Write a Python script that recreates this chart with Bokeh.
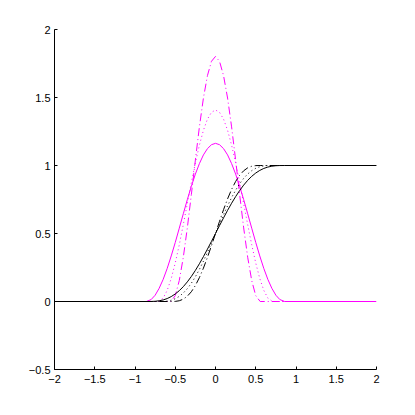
from bokeh.plotting import figure
from bokeh.models import Range1d, FixedTicker
from bokeh.embed import file_html
from bokeh.resources import INLINE

# ---- tick positions / labels ----
x_ticks = [-2, -1.5, -1, -0.5, 0, 0.5, 1, 1.5, 2]
x_tick_labels = ["−2", "−1.5", "−1", "−0.5", "0", "0.5", "1", "1.5", "2"]
y_ticks = [-0.5, 0, 0.5, 1, 1.5, 2]
y_tick_labels = ["−0.5", "0", "0.5", "1", "1.5", "2"]

# ---- widest curves (solid) ----
x_solid = [-2, -0.86, -0.8, -0.75, -0.7, -0.65, -0.6, -0.55, -0.5, -0.45, -0.4, -0.35,
           -0.3, -0.25, -0.2, -0.15, -0.1, -0.05, 0, 0.05, 0.1, 0.15, 0.2, 0.25, 0.3,
           0.35, 0.4, 0.45, 0.5, 0.55, 0.6, 0.65, 0.7, 0.75, 0.8, 0.86, 2]
delta_solid = [0, 0, 0.014, 0.046, 0.097, 0.163, 0.243, 0.335, 0.434, 0.539, 0.645, 0.749,
               0.847, 0.937, 1.014, 1.078, 1.124, 1.153, 1.163, 1.153, 1.124, 1.078, 1.014,
               0.937, 0.847, 0.749, 0.645, 0.539, 0.434, 0.335, 0.243, 0.163, 0.097, 0.046,
               0.014, 0, 0]
step_solid = [0, 0, 0.0003, 0.0017, 0.0052, 0.0116, 0.0217, 0.0361, 0.0553, 0.0796, 0.1092,
              0.1441, 0.184, 0.2287, 0.2775, 0.3299, 0.385, 0.442, 0.5, 0.558, 0.615, 0.6701,
              0.7225, 0.7713, 0.816, 0.8559, 0.8908, 0.9204, 0.9447, 0.9639, 0.9783, 0.9884,
              0.9948, 0.9983, 0.9997, 1, 1]

# ---- middle curves (dotted) ----
x_dotted = [-2, -0.71, -0.65, -0.6, -0.55, -0.5, -0.45, -0.4, -0.35, -0.3, -0.25, -0.2,
            -0.15, -0.1, -0.05, 0, 0.05, 0.1, 0.15, 0.2, 0.25, 0.3, 0.35, 0.4, 0.45, 0.5,
            0.55, 0.6, 0.65, 0.71, 2]
delta_dotted = [0, 0, 0.025, 0.082, 0.169, 0.283, 0.417, 0.565, 0.720, 0.874, 1.020, 1.150,
                1.259, 1.341, 1.391, 1.408, 1.391, 1.341, 1.259, 1.150, 1.020, 0.874, 0.720,
                0.565, 0.417, 0.283, 0.169, 0.082, 0.025, 0, 0]
step_dotted = [0, 0, 0.0005, 0.0030, 0.0092, 0.0204, 0.0378, 0.0623, 0.0944, 0.1343, 0.1817,
               0.2360, 0.2963, 0.3614, 0.4299, 0.5, 0.5701, 0.6386, 0.7037, 0.7640, 0.8183,
               0.8657, 0.9056, 0.9377, 0.9622, 0.9796, 0.9908, 0.9970, 0.9995, 1, 1]

# ---- narrowest curves (dash-dot) ----
x_dashdot = [-2, -0.555, -0.5, -0.45, -0.4, -0.35, -0.3, -0.25, -0.2, -0.15, -0.1, -0.05, 0,
             0.05, 0.1, 0.15, 0.2, 0.25, 0.3, 0.35, 0.4, 0.45, 0.5, 0.555, 2]
delta_dashdot = [0, 0, 0.043, 0.154, 0.325, 0.541, 0.786, 1.040, 1.284, 1.496, 1.661, 1.766,
                 1.802, 1.766, 1.661, 1.496, 1.284, 1.040, 0.786, 0.541, 0.325, 0.154, 0.043,
                 0, 0]
step_dashdot = [0, 0, 0.0008, 0.0055, 0.0172, 0.0387, 0.0719, 0.1175, 0.1757, 0.2454, 0.3246,
                0.4105, 0.5, 0.5895, 0.6754, 0.7546, 0.8243, 0.8825, 0.9281, 0.9613, 0.9828,
                0.9945, 0.9992, 1, 1]

MAGENTA = "#ff00ff"
BLACK = "#000000"
FONT = "Liberation Sans"

p = figure(width=400, height=400, output_backend="svg", toolbar_location=None,
           x_range=Range1d(-2, 2), y_range=Range1d(-0.5, 2),
           min_border_left=54, min_border_right=24, min_border_top=29, min_border_bottom=31)
p.outline_line_color = None
p.xgrid.visible = False
p.ygrid.visible = False
p.background_fill_color = "white"
p.border_fill_color = "white"

for ax, ticks, labels in ((p.xaxis[0], x_ticks, x_tick_labels), (p.yaxis[0], y_ticks, y_tick_labels)):
    ax.ticker = FixedTicker(ticks=ticks)
    ax.major_label_overrides = {t: l for t, l in zip(ticks, labels)}
    ax.major_tick_in = 3
    ax.major_tick_out = 0
    ax.minor_tick_line_color = None
    ax.axis_line_color = BLACK
    ax.major_tick_line_color = BLACK
    ax.major_label_text_font = FONT
    ax.major_label_text_font_size = "11px"
    ax.major_label_text_color = BLACK
p.xaxis.major_label_standoff = 5
p.yaxis.major_label_standoff = 4

p.line(x_solid, delta_solid, line_color=MAGENTA, line_width=1)
p.line(x_dotted, delta_dotted, line_color=MAGENTA, line_width=1, line_dash="1 3")
p.line(x_dashdot, delta_dashdot, line_color=MAGENTA, line_width=1, line_dash="8 3 1 3")
p.line(x_solid, step_solid, line_color=BLACK, line_width=1)
p.line(x_dotted, step_dotted, line_color=BLACK, line_width=1, line_dash="1 3")
p.line(x_dashdot, step_dashdot, line_color=BLACK, line_width=1, line_dash="8 3 1 3")

open("out.html", "w").write(file_html(p, INLINE))
